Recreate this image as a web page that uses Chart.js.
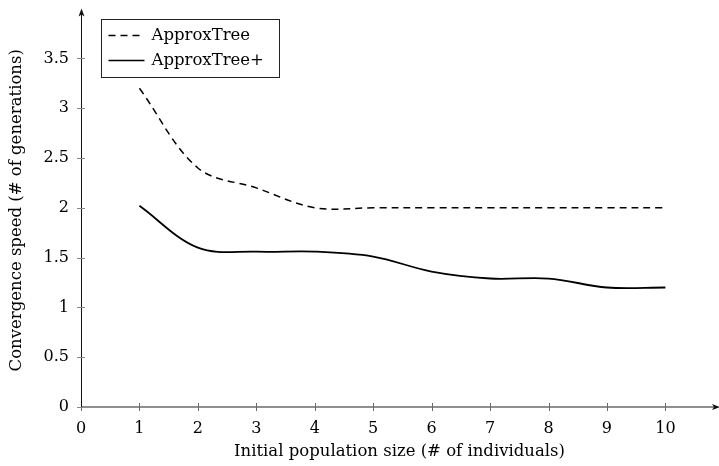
<!DOCTYPE html>
<html lang="en">
<head>
  <meta charset="UTF-8" />
  <title>Convergence speed</title>
  <script src="https://cdn.jsdelivr.net/npm/chart.js"></script>
  <style>
    html, body { margin: 0; padding: 0; background: #fff; }
    #wrap { width: 719px; height: 466px; position: relative; }
  </style>
</head>
<body>
<div id="wrap"><canvas id="speedChart" width="719" height="466"></canvas></div>
<script>
  // data
  const popSizes = [1, 2, 3, 4, 5, 6, 7, 8, 9, 10];
  const approxTree = [3.2, 2.4, 2.2, 2.0, 2.0, 2.0, 2.0, 2.0, 2.0, 2.0];
  const approxTreePlus = [2.02, 1.6, 1.56, 1.56, 1.51, 1.36, 1.29, 1.29, 1.2, 1.2];
  const xTicks = [0, 1, 2, 3, 4, 5, 6, 7, 8, 9, 10];
  const yTicks = [0, 0.5, 1, 1.5, 2, 2.5, 3, 3.5];

  const serif = "'DejaVu Serif', 'Liberation Serif', serif";
  const toPoints = ys => popSizes.map((x, i) => ({ x: x, y: ys[i] }));

  // axis lines with arrows, ticks crossing the axis, and a boxed legend
  const pgfLook = {
    id: 'pgfLook',
    afterDatasetsDraw(chart) {
      const { ctx, chartArea: a, scales: { x, y } } = chart;
      ctx.save();
      // x axis
      ctx.strokeStyle = '#6a6a6a';
      ctx.lineWidth = 1.6;
      ctx.beginPath();
      ctx.moveTo(a.left, a.bottom);
      ctx.lineTo(a.right - 2, a.bottom);
      ctx.stroke();
      ctx.lineWidth = 1;
      xTicks.forEach(v => {
        const px = Math.round(x.getPixelForValue(v)) + 0.5;
        ctx.beginPath();
        ctx.moveTo(px, a.bottom - 4);
        ctx.lineTo(px, a.bottom + 4);
        ctx.stroke();
      });
      // y axis
      ctx.strokeStyle = '#111';
      ctx.beginPath();
      ctx.moveTo(a.left + 0.5, a.bottom);
      ctx.lineTo(a.left + 0.5, a.top - 2);
      ctx.stroke();
      ctx.strokeStyle = '#888';
      yTicks.forEach(v => {
        const py = Math.round(y.getPixelForValue(v)) + 0.5;
        ctx.beginPath();
        ctx.moveTo(a.left - 4, py);
        ctx.lineTo(a.left + 4, py);
        ctx.stroke();
      });
      // arrow heads
      ctx.fillStyle = '#111';
      ctx.beginPath();
      ctx.moveTo(a.left + 0.5, a.top - 5);
      ctx.lineTo(a.left - 2.5, a.top + 3);
      ctx.lineTo(a.left + 0.5, a.top + 1);
      ctx.lineTo(a.left + 3.5, a.top + 3);
      ctx.closePath();
      ctx.fill();
      ctx.beginPath();
      ctx.moveTo(a.right + 2, a.bottom);
      ctx.lineTo(a.right - 6, a.bottom - 3);
      ctx.lineTo(a.right - 4, a.bottom);
      ctx.lineTo(a.right - 6, a.bottom + 3);
      ctx.closePath();
      ctx.fill();

      // legend box
      const bx = 101.5, by = 19.5, bw = 178, bh = 58;
      ctx.fillStyle = '#fff';
      ctx.fillRect(bx, by, bw, bh);
      ctx.strokeStyle = '#222';
      ctx.lineWidth = 1;
      ctx.strokeRect(bx, by, bw, bh);
      ctx.font = '16.5px ' + serif;
      ctx.textBaseline = 'middle';
      chart.data.datasets.forEach((ds, i) => {
        const ly = by + 16 + i * 25;
        ctx.strokeStyle = '#000';
        ctx.lineWidth = 1.5;
        ctx.setLineDash(ds.borderDash || []);
        ctx.beginPath();
        ctx.moveTo(bx + 7, ly);
        ctx.lineTo(bx + 43, ly);
        ctx.stroke();
        ctx.setLineDash([]);
        ctx.fillStyle = '#000';
        ctx.fillText(ds.label, bx + 50, ly);
      });
      ctx.restore();
    }
  };

  new Chart(document.getElementById('speedChart'), {
    type: 'line',
    data: {
      datasets: [
        {
          label: 'ApproxTree',
          data: toPoints(approxTree),
          borderColor: '#000',
          borderWidth: 1.5,
          borderDash: [7, 5],
          pointRadius: 0,
          tension: 0.35,
          fill: false
        },
        {
          label: 'ApproxTree+',
          data: toPoints(approxTreePlus),
          borderColor: '#000',
          borderWidth: 1.8,
          pointRadius: 0,
          tension: 0.35,
          fill: false
        }
      ]
    },
    options: {
      responsive: false,
      animation: false,
      layout: { padding: { top: 12, right: 1, left: 0, bottom: 0 } },
      plugins: {
        legend: { display: false },
        tooltip: { enabled: false }
      },
      scales: {
        x: {
          type: 'linear',
          min: 0,
          max: 10.9,
          afterBuildTicks: s => { s.ticks = xTicks.map(v => ({ value: v })); },
          afterFit: s => { s.height = 59; },
          border: { display: false },
          grid: { display: false },
          ticks: { color: '#000', font: { family: serif, size: 16 }, padding: 4 },
          title: {
            display: true,
            text: 'Initial population size (# of individuals)',
            color: '#000',
            font: { family: serif, size: 16.5 },
            padding: { top: 2 }
          }
        },
        y: {
          type: 'linear',
          min: 0,
          max: 3.95,
          afterBuildTicks: s => { s.ticks = yTicks.map(v => ({ value: v })); },
          afterFit: s => { s.width = 81; },
          border: { display: false },
          grid: { display: false },
          ticks: {
            color: '#000',
            font: { family: serif, size: 16 },
            padding: 4,
            callback: v => String(v)
          },
          title: {
            display: true,
            text: 'Convergence speed (# of generations)',
            color: '#000',
            font: { family: serif, size: 16.5 },
            padding: { top: 7, bottom: 0 }
          }
        }
      }
    },
    plugins: [pgfLook]
  });
</script>
</body>
</html>
